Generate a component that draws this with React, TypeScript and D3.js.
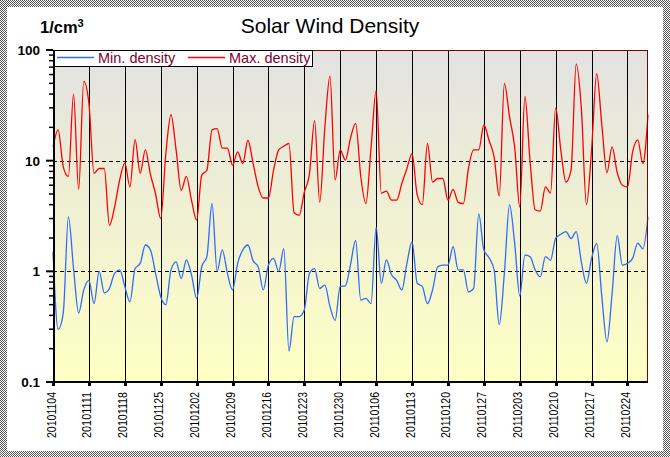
import React, { useRef, useEffect } from 'react'
import * as d3 from 'd3'

// first and last day on the time axis
const startDay = '20101104'
const endDay = '20110228'

// weekly tick labels
const weekTicks = [
  '20101104', '20101111', '20101118', '20101125', '20101202', '20101209',
  '20101216', '20101223', '20101230', '20110106', '20110113', '20110120',
  '20110127', '20110203', '20110210', '20110217', '20110224',
]

const yTicks = [0.1, 1, 10, 100]
const dashedLevels = [1, 10]

// daily values, one per day from startDay (1/cm3)
const maxDensity = [
  13.3, 19, 8.8, 7.2, 40, 5.5, 52, 33, 7.7, 8.5,
  8.5, 2.6, 3.8, 6.7, 9.5, 5.8, 15.5, 7.7, 12.5, 7.5,
  5.0, 3.0, 11.6, 26, 12.5, 5.4, 7.2, 4.4, 2.9, 7.4,
  8.2, 19, 19.5, 13, 13, 9.1, 12, 9.4, 15.3, 9.5,
  5.8, 4.6, 4.6, 8.2, 12.5, 13.5, 14.3, 3.4, 3.2, 5.2,
  7.6, 23, 4.2, 20, 58, 6.7, 12.5, 10.1, 16, 21.7,
  7.2, 4.1, 13, 43, 5.1, 5.3, 4.4, 4.4, 6.2, 8.5,
  11.6, 4.9, 4.0, 14.3, 6.4, 6.9, 6.9, 4.4, 5.5, 4.2,
  4.1, 8.5, 12.5, 12.5, 21, 15.3, 10.8, 4.8, 50, 25,
  13.3, 3.8, 38, 10, 3.6, 3.5, 5.8, 5.1, 30, 12.5,
  6.4, 8.2, 75, 30, 4.0, 12.5, 61, 21, 7.8, 13.3,
  7.8, 6.0, 5.8, 12, 15.4, 9.4, 26,
]

const minDensity = [
  1.5, 0.3, 0.42, 3.1, 1.07, 0.42, 0.68, 0.83, 0.51, 1.0,
  0.64, 0.7, 0.96, 1.03, 0.73, 0.53, 1.06, 1.18, 1.73, 1.56,
  0.96, 0.59, 0.5, 1.03, 1.22, 0.86, 1.27, 0.93, 0.57, 1.1,
  1.36, 4.1, 1.0, 1.56, 0.96, 0.68, 1.18, 1.56, 1.73, 1.25,
  1.1, 0.68, 1.14, 1.31, 1.0, 1.6, 0.19, 0.39, 0.39, 0.45,
  0.96, 1.06, 0.7, 0.75, 0.48, 0.36, 0.73, 0.74, 1.15, 1.9,
  0.55, 0.57, 0.51, 2.5, 0.78, 1.27, 0.93, 0.83, 0.68, 1.18,
  1.85, 0.78, 0.73, 0.51, 0.68, 1.1, 1.14, 1.14, 1.67, 1.03,
  1.03, 0.65, 0.7, 3.3, 1.56, 1.33, 1.03, 0.33, 0.96, 4.0,
  1.8, 0.6, 1.4, 1.36, 1.03, 0.89, 1.36, 1.26, 2.0, 2.16,
  2.28, 1.98, 2.28, 1.22, 0.78, 1.31, 1.79, 0.59, 0.23, 0.63,
  2.1, 1.14, 1.18, 1.31, 1.8, 1.6, 3.1,
]

const width = 670
const height = 457
const margin = { top: 50, right: 22, bottom: 75, left: 53 }
const font = 'Arial, "Liberation Sans", sans-serif'

const App: React.FC = () => {
  const svgRef = useRef<SVGSVGElement>(null)

  useEffect(() => {
    if (!svgRef.current) return
    d3.select(svgRef.current).selectAll('*').remove()

    const svg = d3.select(svgRef.current).attr('width', width).attr('height', height)
    const innerWidth = width - margin.left - margin.right
    const innerHeight = height - margin.top - margin.bottom

    const parse = d3.timeParse('%Y%m%d')
    const start = parse(startDay) as Date
    const end = parse(endDay) as Date
    const days = maxDensity.map((_, i) => d3.timeDay.offset(start, i))

    const x = d3.scaleTime().domain([start, end]).range([0, innerWidth])
    const y = d3.scaleLog().domain([0.1, 100]).range([innerHeight, 0])

    const defs = svg.append('defs')

    // dithered outer frame
    const pat = defs
      .append('pattern')
      .attr('id', 'dither')
      .attr('width', 2)
      .attr('height', 2)
      .attr('patternUnits', 'userSpaceOnUse')
    pat.append('rect').attr('width', 2).attr('height', 2).attr('fill', '#ffffff')
    pat.append('rect').attr('width', 1).attr('height', 1).attr('fill', '#555555')
    pat.append('rect').attr('x', 1).attr('y', 1).attr('width', 1).attr('height', 1).attr('fill', '#555555')

    const bg = defs
      .append('linearGradient')
      .attr('id', 'plot-bg')
      .attr('x1', '0%')
      .attr('x2', '0%')
      .attr('y1', '0%')
      .attr('y2', '100%')
    bg.append('stop').attr('offset', '0%').attr('stop-color', '#e2e2e2')
    bg.append('stop').attr('offset', '100%').attr('stop-color', '#ffffc4')

    svg.append('rect').attr('width', width).attr('height', height).attr('fill', 'url(#dither)')
    svg.append('rect').attr('x', 7).attr('y', 7).attr('width', 656).attr('height', 444).attr('fill', '#ffffff')

    // title and unit
    svg
      .append('text')
      .attr('x', 330)
      .attr('y', 33)
      .attr('text-anchor', 'middle')
      .style('font-family', font)
      .style('font-size', '21px')
      .style('fill', '#000')
      .text('Solar Wind Density')

    const unit = svg
      .append('text')
      .attr('x', 40)
      .attr('y', 33)
      .style('font-family', font)
      .style('font-size', '16.5px')
      .style('font-weight', 'bold')
      .style('fill', '#000')
    unit.append('tspan').text('1/cm')
    unit.append('tspan').attr('dy', -6).style('font-size', '11px').text('3')

    const g = svg.append('g').attr('transform', `translate(${margin.left}, ${margin.top})`)

    g.append('rect').attr('width', innerWidth).attr('height', innerHeight).attr('fill', 'url(#plot-bg)')

    // weekly vertical grid lines
    const tickDates = weekTicks.map(t => parse(t) as Date)
    g.selectAll('.vgrid')
      .data(tickDates)
      .enter()
      .append('line')
      .attr('class', 'vgrid')
      .attr('x1', d => Math.round(x(d)) + 0.5)
      .attr('x2', d => Math.round(x(d)) + 0.5)
      .attr('y1', 0)
      .attr('y2', innerHeight)
      .attr('stroke', '#000')
      .attr('stroke-width', 1)

    // dashed decade lines
    g.selectAll('.hgrid')
      .data(dashedLevels)
      .enter()
      .append('line')
      .attr('class', 'hgrid')
      .attr('x1', 0)
      .attr('x2', innerWidth)
      .attr('y1', d => Math.round(y(d)) + 0.5)
      .attr('y2', d => Math.round(y(d)) + 0.5)
      .attr('stroke', '#000')
      .attr('stroke-width', 1)
      .attr('stroke-dasharray', '4,3')

    // series
    const line = d3
      .line<number>()
      .x((_, i) => x(days[i]))
      .y(d => y(d))
      .curve(d3.curveMonotoneX)

    g.append('path')
      .datum(maxDensity)
      .attr('d', line)
      .attr('fill', 'none')
      .attr('stroke', '#ff0000')
      .attr('stroke-width', 1.3)

    g.append('path')
      .datum(minDensity)
      .attr('d', line)
      .attr('fill', 'none')
      .attr('stroke', '#2f6bff')
      .attr('stroke-width', 1.3)

    // frame: dark red top/right, black axes left/bottom
    g.append('line')
      .attr('x1', 0)
      .attr('x2', innerWidth)
      .attr('y1', 0.5)
      .attr('y2', 0.5)
      .attr('stroke', '#800000')
    g.append('line')
      .attr('x1', innerWidth - 0.5)
      .attr('x2', innerWidth - 0.5)
      .attr('y1', 0)
      .attr('y2', innerHeight)
      .attr('stroke', '#800000')

    // y axis with minor ticks
    const minorTicks = y.ticks().filter(v => !yTicks.includes(v))
    g.selectAll('.ytick-minor')
      .data(minorTicks)
      .enter()
      .append('line')
      .attr('x1', -4)
      .attr('x2', 0)
      .attr('y1', d => y(d))
      .attr('y2', d => y(d))
      .attr('stroke', '#000')
      .attr('stroke-width', 1.5)
    g.selectAll('.ytick-major')
      .data(yTicks)
      .enter()
      .append('line')
      .attr('x1', -7)
      .attr('x2', 0)
      .attr('y1', d => y(d))
      .attr('y2', d => y(d))
      .attr('stroke', '#000')
      .attr('stroke-width', 2)
    g.selectAll('.ylabel')
      .data(yTicks)
      .enter()
      .append('text')
      .attr('x', -13)
      .attr('y', d => y(d))
      .attr('dy', '0.36em')
      .attr('text-anchor', 'end')
      .style('font-family', font)
      .style('font-size', '13.5px')
      .style('font-weight', 'bold')
      .style('fill', '#000')
      .text(d => String(d))

    g.append('line')
      .attr('x1', 1)
      .attr('x2', 1)
      .attr('y1', 0)
      .attr('y2', innerHeight + 1)
      .attr('stroke', '#000')
      .attr('stroke-width', 2)
    g.append('line')
      .attr('x1', 0)
      .attr('x2', innerWidth)
      .attr('y1', innerHeight)
      .attr('y2', innerHeight)
      .attr('stroke', '#000')
      .attr('stroke-width', 2)

    // x ticks and rotated labels
    g.selectAll('.xtick')
      .data(tickDates)
      .enter()
      .append('line')
      .attr('x1', d => Math.round(x(d)) + 0.5)
      .attr('x2', d => Math.round(x(d)) + 0.5)
      .attr('y1', innerHeight - 1)
      .attr('y2', innerHeight + 4)
      .attr('stroke', '#000')
      .attr('stroke-width', 3)
    g.selectAll('.xlabel')
      .data(weekTicks)
      .enter()
      .append('text')
      .attr('transform', (_, i) => `translate(${x(tickDates[i]) + 2.5}, ${innerHeight + 10}) rotate(-90)`)
      .attr('text-anchor', 'end')
      .attr('textLength', 46)
      .attr('lengthAdjust', 'spacingAndGlyphs')
      .style('font-family', font)
      .style('font-size', '13px')
      .style('fill', '#000')
      .text(d => d)

    // legend
    const legend = g.append('g').attr('transform', 'translate(1, 0)')
    legend
      .append('rect')
      .attr('x', 0.5)
      .attr('y', 0.5)
      .attr('width', 258)
      .attr('height', 16)
      .attr('fill', '#fff')
      .attr('stroke', '#000')
    const items = [
      { label: 'Min. density', color: '#2f6bff', x0: 3 },
      { label: 'Max. density', color: '#ff0000', x0: 134 },
    ]
    items.forEach(it => {
      legend
        .append('line')
        .attr('x1', it.x0)
        .attr('x2', it.x0 + 37)
        .attr('y1', 7.5)
        .attr('y2', 7.5)
        .attr('stroke', it.color)
        .attr('stroke-width', 1.3)
      legend
        .append('text')
        .attr('x', it.x0 + 41)
        .attr('y', 12.5)
        .style('font-family', font)
        .style('font-size', '14.5px')
        .style('fill', '#800030')
        .text(it.label)
    })
  }, [])

  return (
    <div>
      <svg ref={svgRef} style={{ position: 'fixed', left: 0, top: 0, display: 'block' }} />
    </div>
  )
}

export default App
